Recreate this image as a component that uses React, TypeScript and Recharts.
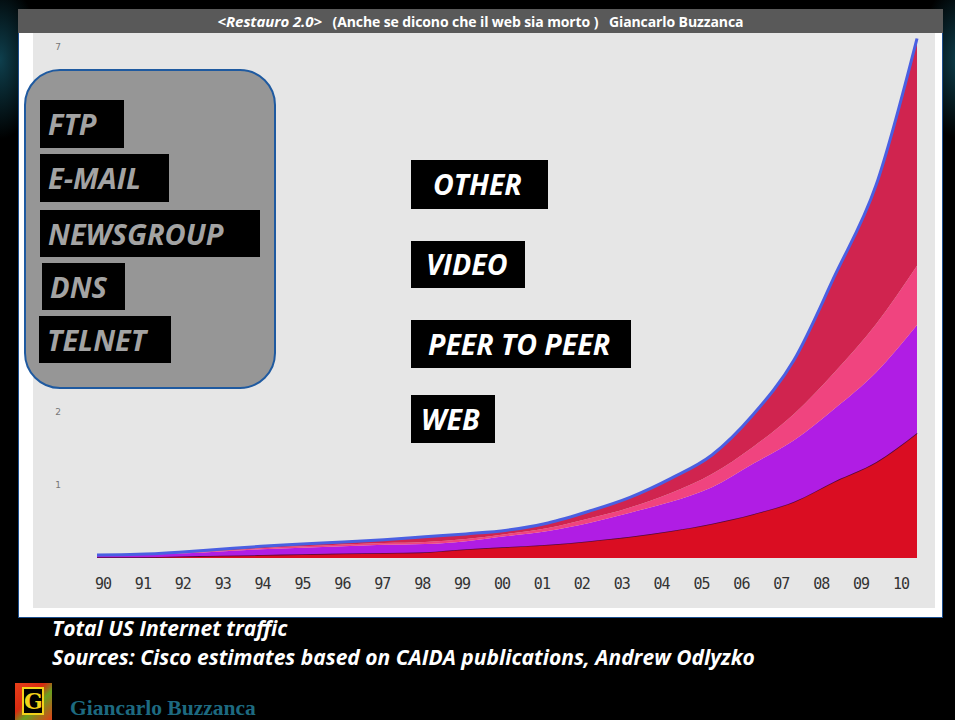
import React from "react";
import { AreaChart, Area, XAxis, YAxis } from "recharts";

const yearLabels = ["90","91","92","93","94","95","96","97","98","99","00","01","02","03","04","05","06","07","08","09","10"];
const web = [0.01,0.01,0.02,0.03,0.04,0.05,0.06,0.07,0.08,0.12,0.15,0.18,0.23,0.29,0.37,0.47,0.60,0.77,1.05,1.31,1.71];
const peerToPeer = [0.02,0.03,0.04,0.06,0.08,0.09,0.10,0.11,0.11,0.11,0.15,0.19,0.25,0.33,0.40,0.50,0.69,0.84,1.00,1.23,1.48];
const video = [0.005,0.005,0.01,0.01,0.015,0.02,0.025,0.025,0.03,0.03,0.03,0.04,0.06,0.07,0.12,0.18,0.23,0.36,0.50,0.66,0.81];
const other = [0.005,0.005,0.01,0.02,0.025,0.03,0.035,0.045,0.07,0.07,0.05,0.07,0.10,0.14,0.20,0.26,0.44,0.74,1.32,1.90,3.11];
const yTicks = [1,2,7];
const legacyProtocols = ["FTP","E-MAIL","NEWSGROUP","DNS","TELNET"];
const seriesLabels = ["OTHER","VIDEO","PEER TO PEER","WEB"];

const data = yearLabels.map((label, i) => ({
  i,
  label,
  web: web[i],
  p2p: peerToPeer[i],
  video: video[i],
  other: other[i],
}));

const legacyBoxes = [
  { left: 40, top: 100, width: 84, height: 48 },
  { left: 40, top: 154, width: 129, height: 48 },
  { left: 40, top: 210, width: 220, height: 47 },
  { left: 42, top: 263, width: 83, height: 47 },
  { left: 39, top: 316, width: 132, height: 47 },
];
const seriesBoxes = [
  { left: 411, top: 160, width: 137, height: 49, pad: 22 },
  { left: 411, top: 241, width: 114, height: 47, pad: 15 },
  { left: 411, top: 320, width: 220, height: 48, pad: 17 },
  { left: 411, top: 395, width: 84, height: 48, pad: 10 },
];

export default function App() {
  return (
    <div style={{ position: "absolute", left: 0, top: 0, width: 955, height: 720, background: "#000", overflow: "hidden", fontFamily: "'Open Sans', sans-serif" }}>
      <div style={{ position: "absolute", left: -40, top: -20, width: 80, height: 160, background: "radial-gradient(ellipse at center, rgba(20,90,110,0.7), rgba(0,0,0,0) 70%)" }} />
      <div style={{ position: "absolute", left: 920, top: -20, width: 80, height: 160, background: "radial-gradient(ellipse at center, rgba(20,90,110,0.7), rgba(0,0,0,0) 70%)" }} />
      {/* white panel */}
      <div style={{ position: "absolute", left: 18, top: 10, width: 923, height: 606, background: "#fff", border: "1px solid #1c4f8f" }} />
      {/* grey plot panel */}
      <div style={{ position: "absolute", left: 33, top: 33, width: 902, height: 575, background: "#e6e6e6" }} />
      <div style={{ position: "absolute", left: 0, top: 0 }}>
        <AreaChart width={955} height={620} data={data} margin={{ top: 10, right: 38, bottom: 0, left: 57 }}>
          <XAxis xAxisId="data" dataKey="i" type="number" domain={[0, 20]} hide height={0} />
          <XAxis
            xAxisId="lab"
            type="number"
            domain={[0, 20]}
            allowDataOverflow
            ticks={yearLabels.map((_, i) => i)}
            tickFormatter={(v) => yearLabels[v]}
            padding={{ left: 6, right: 16 }}
            height={62}
            axisLine={false}
            tickLine={false}
            tickSize={0}
            tickMargin={20}
            interval={0}
            tick={{ fill: "#333", fontSize: 15, fontFamily: "'DejaVu Sans Mono', monospace", letterSpacing: -1 }}
          />
          <YAxis
            domain={[0, 7.5]}
            allowDataOverflow
            ticks={yTicks}
            width={40}
            axisLine={false}
            tickLine={false}
            tickSize={0}
            tickMargin={36}
            tick={{ fill: "#777", fontSize: 9, fontFamily: "'DejaVu Sans', sans-serif" }}
          />
          <Area xAxisId="data" type="monotone" dataKey="web" stackId="a" fill="#da0d22" fillOpacity={1} stroke="#5a0a3a" strokeWidth={1.5} isAnimationActive={false} />
          <Area xAxisId="data" type="monotone" dataKey="p2p" stackId="a" fill="#b01de4" fillOpacity={1} stroke="none" isAnimationActive={false} />
          <Area xAxisId="data" type="monotone" dataKey="video" stackId="a" fill="#f0447f" fillOpacity={1} stroke="none" isAnimationActive={false} />
          <Area xAxisId="data" type="monotone" dataKey="other" stackId="a" fill="#d0244f" fillOpacity={1} stroke="#4a5fe2" strokeWidth={3} isAnimationActive={false} />
        </AreaChart>
      </div>
      {/* title bar */}
      <div style={{ position: "absolute", left: 18, top: 9, width: 925, height: 24, background: "#595959", color: "#fff", fontWeight: 700, fontSize: 14, lineHeight: "24px", textAlign: "center", whiteSpace: "pre", letterSpacing: -0.1 }}>
        <span style={{ fontStyle: "italic", fontSize: 15 }}>{"<Restauro 2.0>"}</span>
        {"   (Anche se dicono che il web sia morto )   Giancarlo Buzzanca"}
      </div>
      {/* legacy protocol box */}
      <div style={{ position: "absolute", left: 24, top: 69, width: 248, height: 316, background: "#969696", border: "2px solid #1f5aa0", borderRadius: 36 }} />
      {legacyProtocols.map((t, k) => (
        <div key={t} style={{ position: "absolute", left: legacyBoxes[k].left, top: legacyBoxes[k].top, width: legacyBoxes[k].width, height: legacyBoxes[k].height, background: "#000", color: "#a3a3a3", fontStyle: "italic", fontWeight: 700, fontSize: 29, lineHeight: `${legacyBoxes[k].height}px`, paddingLeft: 8, boxSizing: "border-box", whiteSpace: "nowrap", overflow: "hidden" }}>
          {t}
        </div>
      ))}
      {seriesLabels.map((t, k) => (
        <div key={t} style={{ position: "absolute", left: seriesBoxes[k].left, top: seriesBoxes[k].top, width: seriesBoxes[k].width, height: seriesBoxes[k].height, background: "#000", color: "#fff", fontStyle: "italic", fontWeight: 700, fontSize: 28.5, lineHeight: `${seriesBoxes[k].height}px`, paddingLeft: seriesBoxes[k].pad, boxSizing: "border-box", whiteSpace: "nowrap" }}>
          {t}
        </div>
      ))}
      {/* footer */}
      <div style={{ position: "absolute", left: 52, top: 615, color: "#fff", fontStyle: "italic", fontWeight: 700, fontSize: 21, lineHeight: "26px", whiteSpace: "nowrap" }}>
        Total US Internet traffic
      </div>
      <div style={{ position: "absolute", left: 52, top: 644, color: "#fff", fontStyle: "italic", fontWeight: 700, fontSize: 21, lineHeight: "26px", whiteSpace: "nowrap" }}>
        Sources: Cisco estimates based on CAIDA publications, Andrew Odlyzko
      </div>
      <div style={{ position: "absolute", left: 15, top: 683, width: 37, height: 37, background: "linear-gradient(135deg, #e8401a 0%, #d82a10 40%, #6aa020 60%, #e04018 100%)" }}>
        <div style={{ position: "absolute", left: 7, top: 4, width: 22, height: 28, background: "#000", border: "2px solid #f2d21a", boxSizing: "border-box", color: "#f2d21a", fontFamily: "'DejaVu Serif', serif", fontWeight: 700, fontSize: 22, lineHeight: "24px", textAlign: "center" }}>
          G
        </div>
      </div>
      <div style={{ position: "absolute", left: 70, top: 696, color: "#1d6a80", fontFamily: "'Liberation Serif', serif", fontWeight: 700, fontSize: 21.5, lineHeight: "24px", whiteSpace: "nowrap" }}>
        Giancarlo Buzzanca
      </div>
    </div>
  );
}
